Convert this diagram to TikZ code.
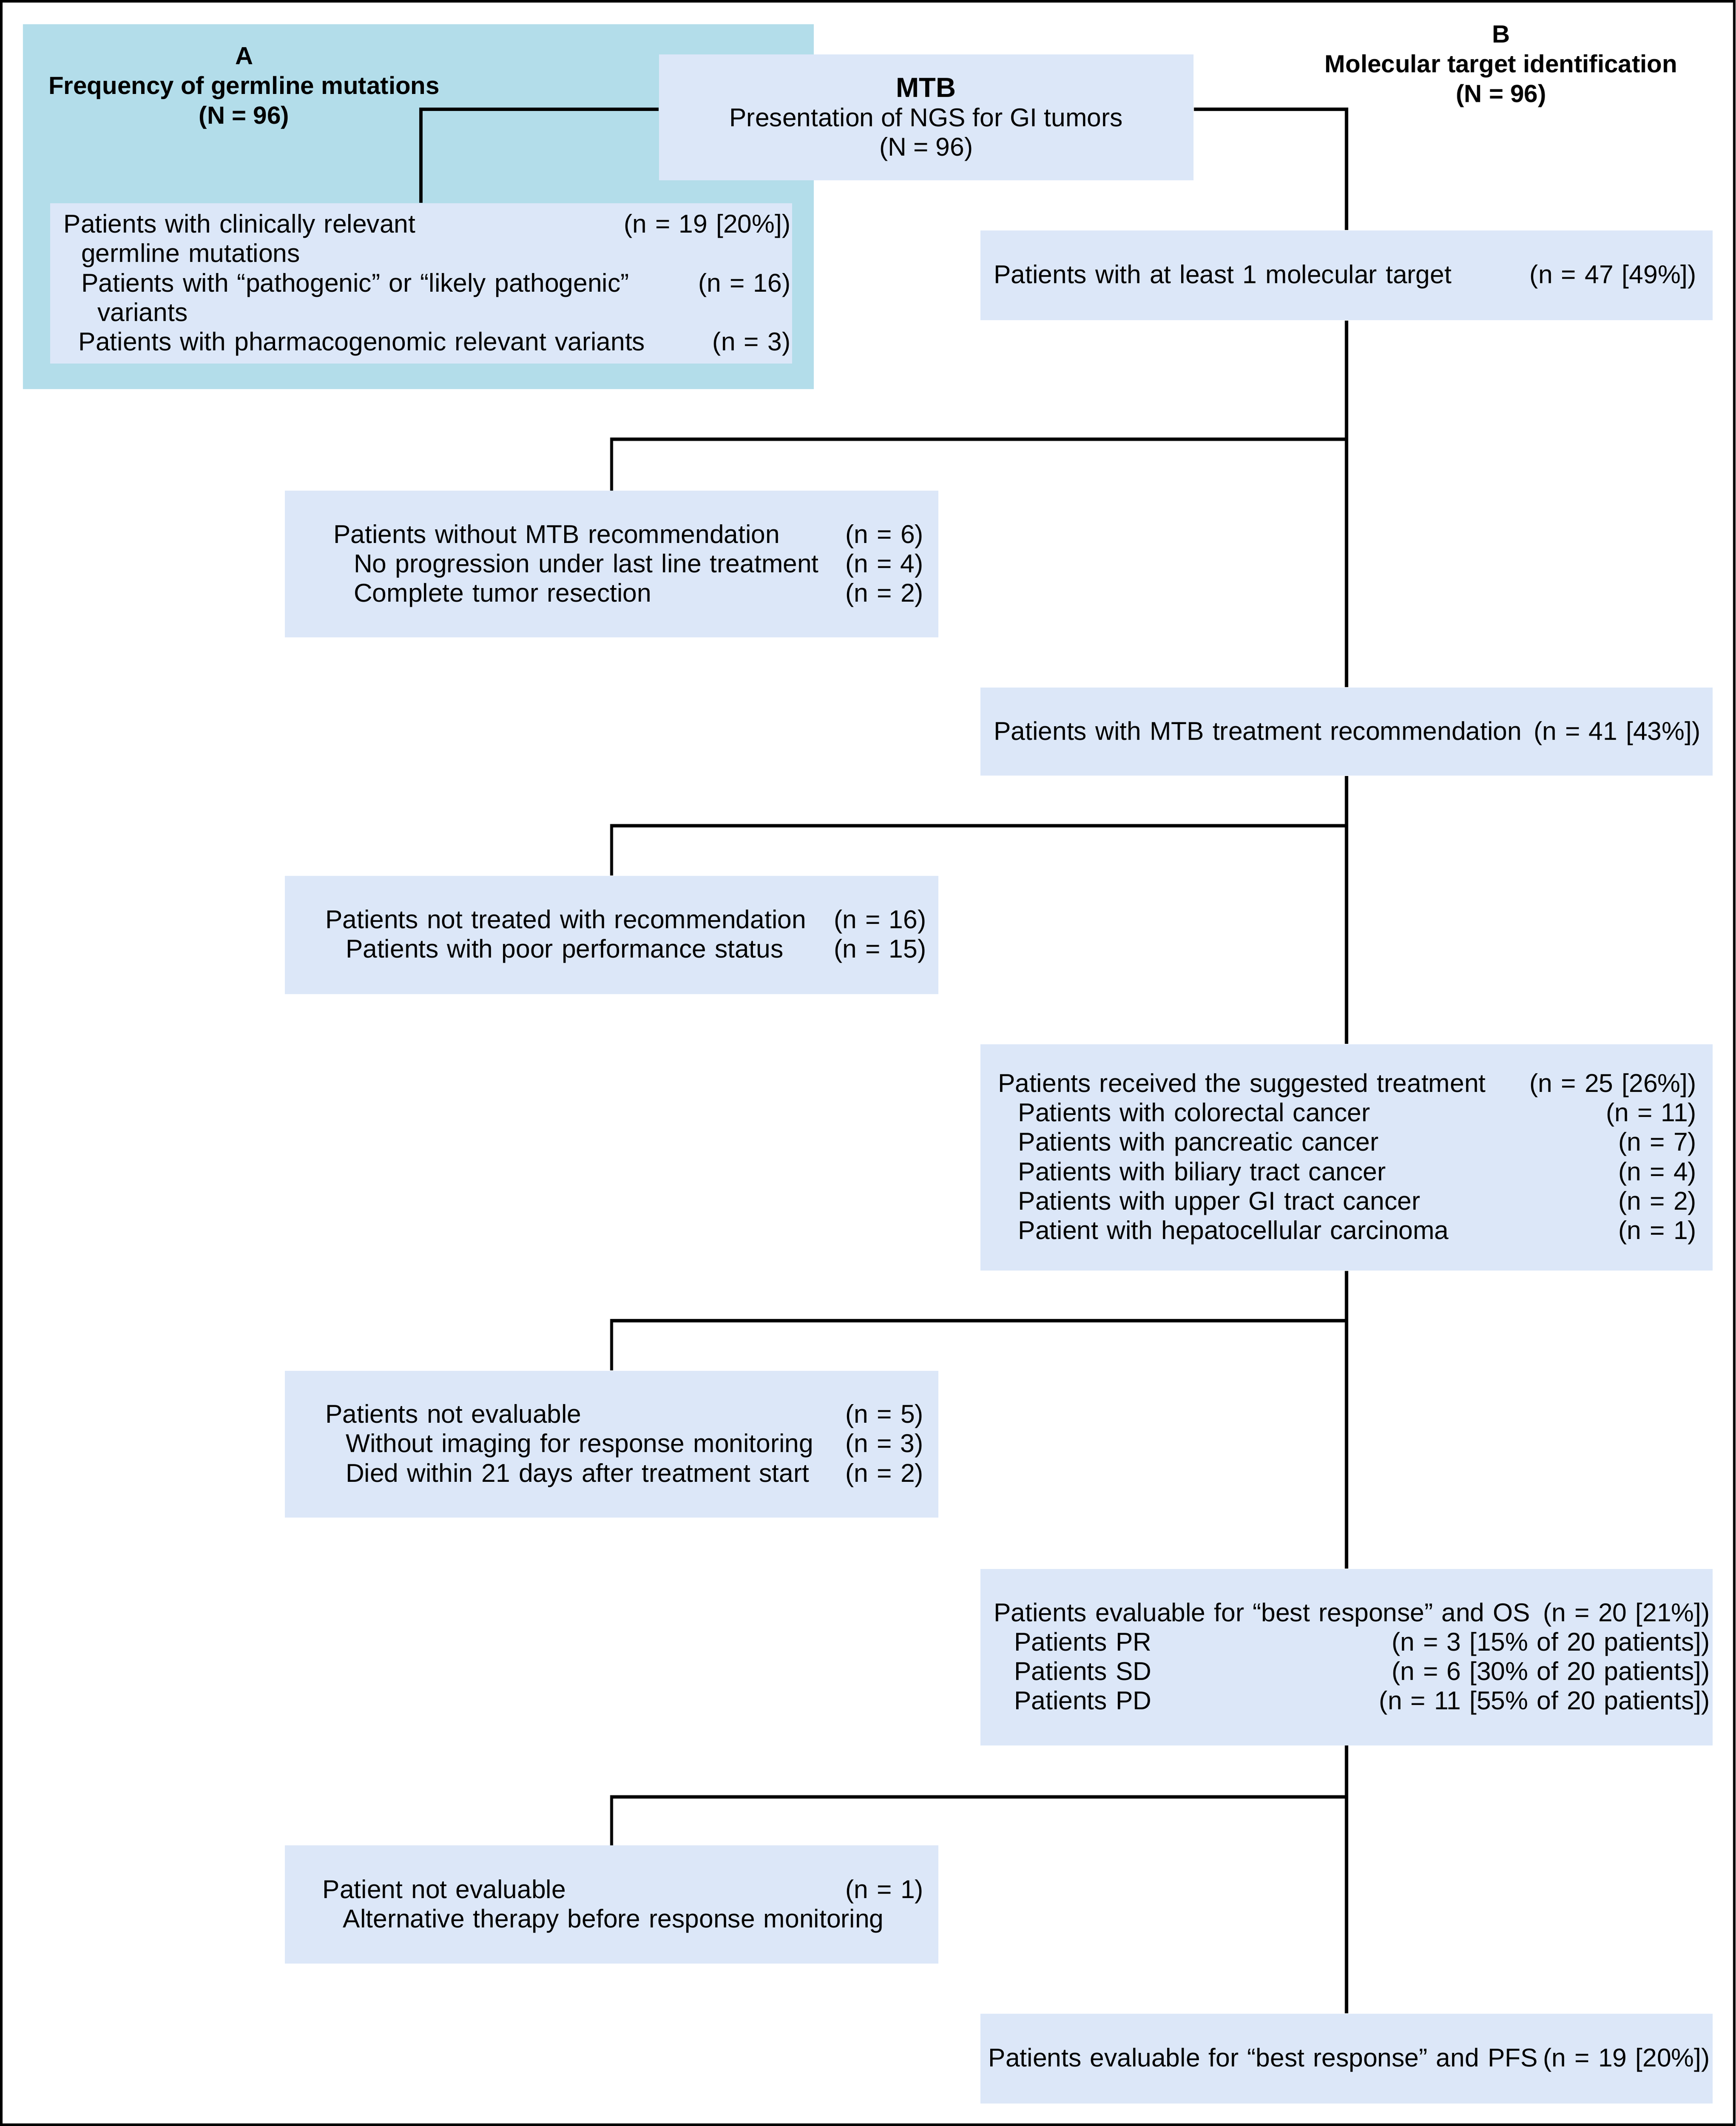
\documentclass[tikz,border=0pt]{standalone}
\usepackage{fontspec}
\setmainfont{Liberation Sans}
\usetikzlibrary{positioning}
\definecolor{panelblue}{RGB}{179,221,234}
\definecolor{boxblue}{RGB}{220,231,248}
\tikzstyle{panel} = [rectangle, fill=panelblue, inner sep=0pt]
\tikzstyle{box} = [rectangle, fill=boxblue, inner sep=0pt]
\tikzstyle{leftbox} = [box, minimum width=12.05cm]
\tikzstyle{rightbox} = [box, minimum width=13.5cm]
\tikzstyle{txt} = [inner sep=0pt, align=left, yshift=-0.03cm, font=\fontsize{13.5}{15.4}\selectfont]
\tikzstyle{heading} = [inner sep=0pt, align=center, font=\fontsize{13}{15.6}\selectfont\bfseries]
\tikzstyle{link} = [line width=1.7pt]
\newcommand{\ind}{\hspace*{0.375cm}}

\begin{document}
\begin{tikzpicture}[x=0.025cm, y=-0.025cm]
\useasboundingbox (0,0) rectangle (1280,1567.8);
\draw [line width=1.4pt] (1,1) rectangle (1279,1566.8);

% panel A
\node (panelA) [panel, minimum width=14.575cm, minimum height=6.725cm] at (308.5,152.5) {};
\node (headA) [heading] at (180,65) {A\\Frequency of germline mutations\\(N = 96)};
\node (germ) [box, minimum width=13.675cm, minimum height=2.95cm] at (310.5,209) {};
\node (germT) [txt, text width=13.4cm, right=0.25cm of germ.west] {Patients with clinically relevant\hfill(n = 19 [20\%])\\
\hspace*{0.325cm}germline mutations\\
\hspace*{0.325cm}Patients with “pathogenic” or “likely pathogenic”\hfill(n = 16)\\
\hspace*{0.625cm}variants\\
\hspace*{0.275cm}Patients with pharmacogenomic relevant variants\hfill(n = 3)};

% MTB
\node (mtb) [box, minimum width=9.85cm, minimum height=2.325cm] at (683,86.5) {};
\node (mtbT) [txt, align=center] at (683,87) {{\fontsize{14.5}{16}\selectfont\bfseries MTB}\\Presentation of NGS for GI tumors\\(N = 96)};

% panel B
\node (headB) [heading] at (1107,49) {B\\Molecular target identification\\(N = 96)};

\node (target) [rightbox, minimum height=1.65cm] at (993,203) {};
\node (targetT) [txt, text width=12.95cm, right=0.25cm of target.west] {Patients with at least 1 molecular target\hfill(n = 47 [49\%])};

\node (nomtb) [leftbox, minimum height=2.7cm] at (451,416) {};
\node (nomtbT) [txt, text width=10.875cm, right=0.9cm of nomtb.west] {Patients without MTB recommendation\hfill(n = 6)\\
\ind No progression under last line treatment\hfill(n = 4)\\
\ind Complete tumor resection\hfill(n = 2)};

\node (mtbrec) [rightbox, minimum height=1.625cm] at (993,539.5) {};
\node (mtbrecT) [txt, text width=13.025cm, right=0.25cm of mtbrec.west] {Patients with MTB treatment recommendation\hfill(n = 41 [43\%])};

\node (nottreat) [leftbox, minimum height=2.175cm] at (451,689.5) {};
\node (nottreatT) [txt, text width=11.075cm, right=0.75cm of nottreat.west] {Patients not treated with recommendation\hfill(n = 16)\\
\ind Patients with poor performance status\hfill(n = 15)};

\node (recv) [rightbox, minimum height=4.175cm] at (993,853.5) {};
\node (recvT) [txt, text width=12.875cm, right=0.325cm of recv.west] {Patients received the suggested treatment\hfill(n = 25 [26\%])\\
\ind Patients with colorectal cancer\hfill(n = 11)\\
\ind Patients with pancreatic cancer\hfill(n = 7)\\
\ind Patients with biliary tract cancer\hfill(n = 4)\\
\ind Patients with upper GI tract cancer\hfill(n = 2)\\
\ind Patient with hepatocellular carcinoma\hfill(n = 1)};

\node (noteval) [leftbox, minimum height=2.7cm] at (451,1065) {};
\node (notevalT) [txt, text width=11.025cm, right=0.75cm of noteval.west] {Patients not evaluable\hfill(n = 5)\\
\ind Without imaging for response monitoring\hfill(n = 3)\\
\ind Died within 21 days after treatment start\hfill(n = 2)};

\node (os) [rightbox, minimum height=3.25cm] at (993,1222) {};
\node (osT) [txt, text width=13.2cm, right=0.25cm of os.west] {Patients evaluable for “best response” and OS\hfill(n = 20 [21\%])\\
\ind Patients PR\hfill(n = 3 [15\% of 20 patients])\\
\ind Patients SD\hfill(n = 6 [30\% of 20 patients])\\
\ind Patients PD\hfill(n = 11 [55\% of 20 patients])};

\node (noteval2) [leftbox, minimum height=2.175cm] at (451,1404.5) {};
\node (noteval2T) [txt, text width=11.075cm, right=0.7cm of noteval2.west] {Patient not evaluable\hfill(n = 1)\\
\ind Alternative therapy before response monitoring};

\node (pfs) [rightbox, minimum height=1.65cm] at (993,1518) {};
\node (pfsT) [txt, text width=13.3cm, right=0.15cm of pfs.west] {Patients evaluable for “best response” and PFS\hfill(n = 19 [20\%])};

% branch points on the trunk
\coordinate (split1) at (993,324);
\coordinate (split2) at (993,609);
\coordinate (split3) at (993,974);
\coordinate (split4) at (993,1325);

\draw [link] ([yshift=0.15cm]mtb.west) -| (germ.north);
\draw [link] ([yshift=0.15cm]mtb.east) -| (target.north);
\draw [link] (target.south) -- (mtbrec.north);
\draw [link] (mtbrec.south) -- (recv.north);
\draw [link] (recv.south) -- (os.north);
\draw [link] (os.south) -- (pfs.north);
\draw [link] (split1) -| (nomtb.north);
\draw [link] (split2) -| (nottreat.north);
\draw [link] (split3) -| (noteval.north);
\draw [link] (split4) -| (noteval2.north);

\end{tikzpicture}
\end{document}
